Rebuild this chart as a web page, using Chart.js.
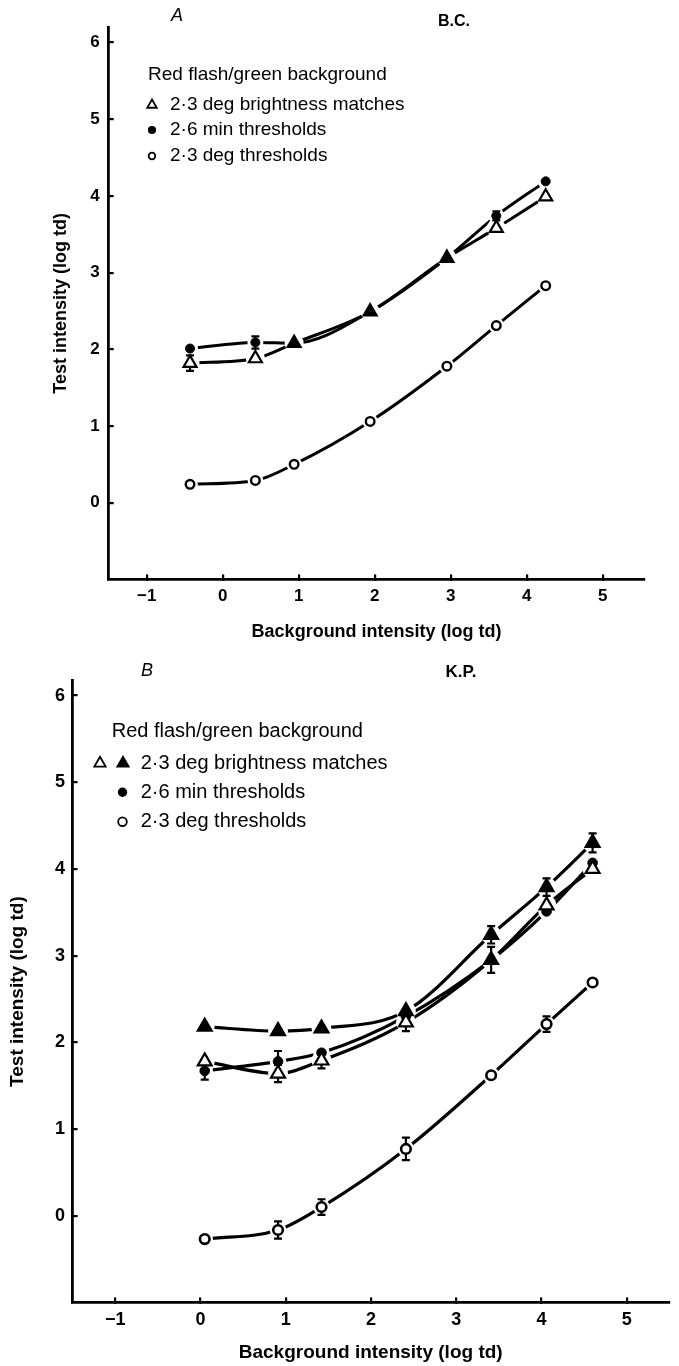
<!DOCTYPE html>
<html>
<head>
<meta charset="utf-8">
<script src="https://cdn.jsdelivr.net/npm/chart.js@4.4.0/dist/chart.umd.min.js"></script>
<style>
    html, body { margin: 0; padding: 0; background: #fff; }
    body { width: 679px; height: 1366px; position: relative; overflow: hidden; }
    canvas { position: absolute; left: 0; }
    #chartA { top: 0; }
    #chartB { top: 655px; }
</style>
</head>
<body>
<canvas id="chartA" width="679" height="655"></canvas>
<canvas id="chartB" width="679" height="711"></canvas>
<script>
// Panel A, subject B.C. (x = background intensity, log td)
const bcX        = [-0.43, 0.43, 0.94, 1.94, 2.95, 3.60, 4.25];
const bcMatch    = [1.82, 1.88, 2.08, 2.49, 3.19, 3.58, 3.99];  // open triangles
const bcMatchErr = [0.10, 0, 0, 0, 0, 0, 0];
const bcSmall    = [2.01, 2.09, 2.08, 2.49, 3.19, 3.74, 4.19];  // filled dots
const bcSmallErr = [0, 0.08, 0, 0, 0, 0.06, 0];
const bcLarge    = [0.24, 0.29, 0.50, 1.06, 1.78, 2.31, 2.83];  // open circles
const bcLargeErr = [0, 0, 0, 0, 0, 0, 0];

// Panel B, subject K.P.
const kpX             = [0.05, 0.91, 1.42, 2.41, 3.41, 4.06, 4.60];
const kpMatchFilled    = [2.18, 2.13, 2.16, 2.36, 3.24, 3.79, 4.30];
const kpMatchFilledErr = [0, 0, 0, 0, 0.10, 0.10, 0.11];
const kpMatchOpen      = [1.78, 1.64, 1.79, 2.23, 2.95, 3.58, 4.00];
const kpMatchOpenErr   = [0, 0.10, 0.09, 0.10, 0.15, 0, 0];
const kpSmall          = [1.67, 1.78, 1.88, 2.30, 2.95, 3.51, 4.07];
const kpSmallErr       = [0.10, 0.12, 0, 0, 0, 0, 0];
const kpLarge          = [-0.27, -0.165, 0.10, 0.77, 1.62, 2.21, 2.69];
const kpLargeErr       = [0, 0.10, 0.09, 0.13, 0, 0.09, 0];

const xTicks = [-1, 0, 1, 2, 3, 4, 5];
const yTicks = [0, 1, 2, 3, 4, 5, 6];

const legendHeader = 'Red flash/green background';
const legendLabels = ['2\u00b73 deg brightness matches', '2\u00b76 min thresholds', '2\u00b73 deg thresholds'];

const FAMILY = '"Liberation Sans", Arial, Helvetica, sans-serif';

function fmtTick(v) {
    return v < 0 ? '\u2212' + Math.abs(v) : String(v);
}

// each series = line, white halo (gap round the marker), marker
function buildDatasets(series) {
    const out = [];
    series.forEach(s => {
        const pts = s.xs.map((x, i) => ({ x: x, y: s.ys[i] }));
        const hidden = s.hidden || (() => false);
        const filled = s.filled || (() => false);
        out.push({
            data: pts, order: 3, showLine: true, pointRadius: 0,
            borderColor: '#000', borderWidth: s.lineWidth,
            cubicInterpolationMode: 'monotone', fill: false
        });
        out.push({
            data: pts, order: 2, showLine: false, pointStyle: 'circle',
            pointRadius: c => hidden(c.dataIndex) ? 0 : s.radius + s.gap,
            pointBackgroundColor: '#fff', pointBorderColor: '#fff', pointBorderWidth: 0
        });
        out.push({
            data: pts, order: 1, showLine: false, errors: s.errs, pointStyle: s.shape,
            pointRadius: c => hidden(c.dataIndex) ? 0 : s.radius,
            pointBackgroundColor: c => filled(c.dataIndex) ? '#000' : '#fff',
            pointBorderColor: '#000', pointBorderWidth: s.border
        });
    });
    return out;
}

const errorBars = {
    id: 'errorBars',
    beforeDatasetDraw(chart, args) {
        const ds = chart.data.datasets[args.index];
        if (!ds.errors) return;
        const { ctx, scales: { x, y } } = chart;
        ctx.save();
        ctx.strokeStyle = '#000';
        ctx.lineWidth = 2.2;
        ds.data.forEach((p, i) => {
            const e = ds.errors[i];
            if (!e) return;
            const px = x.getPixelForValue(p.x);
            const top = y.getPixelForValue(p.y + e);
            const bot = y.getPixelForValue(p.y - e);
            ctx.beginPath();
            ctx.moveTo(px, top); ctx.lineTo(px, bot);
            ctx.moveTo(px - 4, top); ctx.lineTo(px + 4, top);
            ctx.moveTo(px - 4, bot); ctx.lineTo(px + 4, bot);
            ctx.stroke();
        });
        ctx.restore();
    }
};

function drawMark(ctx, m) {
    const { x, y, r } = m;
    ctx.beginPath();
    if (m.shape === 'triangle') {
        ctx.moveTo(x, y - r);
        ctx.lineTo(x + r * 0.866, y + r / 2);
        ctx.lineTo(x - r * 0.866, y + r / 2);
        ctx.closePath();
    } else {
        ctx.arc(x, y, r, 0, Math.PI * 2);
    }
    ctx.fillStyle = m.filled ? '#000' : '#fff';
    ctx.fill();
    ctx.lineWidth = m.lw || 1.8;
    ctx.strokeStyle = '#000';
    ctx.stroke();
}

function makeDecor(d) {
    return {
        id: 'decor',
        afterDraw(chart) {
            const ctx = chart.ctx;
            ctx.save();
            ctx.fillStyle = '#000';
            ctx.textBaseline = 'middle';
            ctx.textAlign = 'center';
            ctx.font = d.letter.font;
            ctx.fillText(d.letter.text, d.letter.x, d.letter.y);
            ctx.font = d.subject.font;
            ctx.fillText(d.subject.text, d.subject.x, d.subject.y);

            ctx.textAlign = 'left';
            ctx.font = d.font;
            ctx.fillText(legendHeader, d.header.x, d.header.y);
            d.rows.forEach((row, i) => {
                row.marks.forEach(m => drawMark(ctx, Object.assign({ y: row.y }, m)));
                ctx.fillStyle = '#000';
                ctx.fillText(legendLabels[i], d.textX, row.y);
            });
            ctx.restore();
        }
    };
}

function makePanel(canvasId, p) {
    return new Chart(document.getElementById(canvasId), {
        type: 'line',
        data: { datasets: buildDatasets(p.series) },
        options: {
            responsive: false,
            animation: false,
            events: [],
            layout: { padding: p.padding },
            scales: {
                x: {
                    type: 'linear', min: p.xMin, max: p.xMax,
                    afterFit: s => { s.height = p.xAxisHeight; },
                    afterBuildTicks: s => { s.ticks = xTicks.map(v => ({ value: v })); },
                    grid: { drawOnChartArea: false, tickLength: -5, lineWidth: 2.2, color: '#000' },
                    border: { color: '#000', width: 2.8 },
                    ticks: {
                        padding: p.xTickPad, color: '#000', maxRotation: 0,
                        font: { family: FAMILY, size: p.tickSize, weight: 'bold' },
                        callback: v => fmtTick(v)
                    },
                    title: {
                        display: true, text: 'Background intensity (log td)', color: '#000',
                        font: { family: FAMILY, size: p.titleSize, weight: 'bold' },
                        padding: { top: 0, bottom: p.xTitlePad }
                    }
                },
                y: {
                    type: 'linear', min: p.yMin, max: p.yMax,
                    afterFit: s => { s.width = p.yAxisWidth; },
                    afterBuildTicks: s => { s.ticks = yTicks.map(v => ({ value: v })); },
                    grid: { drawOnChartArea: false, tickLength: -5, lineWidth: 2.2, color: '#000' },
                    border: { color: '#000', width: 2.8 },
                    ticks: {
                        padding: p.yTickPad, color: '#000',
                        font: { family: FAMILY, size: p.tickSize, weight: 'bold' },
                        callback: v => fmtTick(v)
                    },
                    title: {
                        display: true, text: 'Test intensity (log td)', color: '#000',
                        font: { family: FAMILY, size: p.titleSize, weight: 'bold' },
                        padding: { top: p.yTitlePad, bottom: 0 }
                    }
                }
            },
            plugins: { legend: { display: false }, tooltip: { enabled: false } }
        },
        plugins: [errorBars, makeDecor(p.decor)]
    });
}

const sameA = i => bcMatch[i] === bcSmall[i];
const sameB = i => kpMatchOpen[i] === kpSmall[i];

makePanel('chartA', {
    xMin: -1.5, xMax: 5.55, yMin: -1, yMax: 6.2,
    padding: { left: 0, right: 34.5, top: 27.2, bottom: 0 },
    yAxisWidth: 108.7, xAxisHeight: 75.6,
    tickSize: 17, titleSize: 18,
    xTickPad: 12.1, yTickPad: 14, xTitlePad: 12.5, yTitlePad: 49.8,
    series: [
        { xs: bcX, ys: bcMatch, errs: bcMatchErr, shape: 'triangle', radius: 7.5, border: 2.2, gap: 2, lineWidth: 3, filled: sameA },
        { xs: bcX, ys: bcSmall, errs: bcSmallErr, shape: 'circle', radius: 4.5, border: 1, gap: 3.5, lineWidth: 3, filled: () => true, hidden: sameA },
        { xs: bcX, ys: bcLarge, errs: bcLargeErr, shape: 'circle', radius: 4.3, border: 2.4, gap: 3.5, lineWidth: 3 }
    ],
    decor: {
        letter: { text: 'A', x: 177, y: 16, font: 'italic 18px ' + FAMILY },
        subject: { text: 'B.C.', x: 454, y: 22, font: 'bold 16px ' + FAMILY },
        header: { x: 148, y: 75 },
        font: '19px ' + FAMILY,
        textX: 170,
        rows: [
            { y: 105, marks: [{ x: 152, shape: 'triangle', filled: false, r: 5.5 }] },
            { y: 130, marks: [{ x: 152, shape: 'circle', filled: true, r: 3.2 }] },
            { y: 156, marks: [{ x: 152, shape: 'circle', filled: false, r: 3.3 }] }
        ]
    }
});

makePanel('chartB', {
    xMin: -1.5, xMax: 5.494, yMin: -1, yMax: 6.17,
    padding: { left: 0, right: 0, top: 25.8, bottom: 0 },
    yAxisWidth: 72.6, xAxisHeight: 63.6,
    tickSize: 18, titleSize: 19,
    xTickPad: 11.8, yTickPad: 12.6, xTitlePad: 2, yTitlePad: 6.5,
    series: [
        { xs: kpX, ys: kpMatchFilled, errs: kpMatchFilledErr, shape: 'triangle', radius: 8, border: 2.2, gap: 2, lineWidth: 3.2, filled: () => true },
        { xs: kpX, ys: kpMatchOpen, errs: kpMatchOpenErr, shape: 'triangle', radius: 8, border: 2.2, gap: 2, lineWidth: 3.2, filled: sameB },
        { xs: kpX, ys: kpSmall, errs: kpSmallErr, shape: 'circle', radius: 4.8, border: 1, gap: 3.5, lineWidth: 3.2, filled: () => true, hidden: sameB },
        { xs: kpX, ys: kpLarge, errs: kpLargeErr, shape: 'circle', radius: 4.8, border: 2.6, gap: 3.5, lineWidth: 3.2 }
    ],
    decor: {
        letter: { text: 'B', x: 147, y: 16, font: 'italic 18px ' + FAMILY },
        subject: { text: 'K.P.', x: 461, y: 17, font: 'bold 17px ' + FAMILY },
        header: { x: 111.7, y: 76 },
        font: '20px ' + FAMILY,
        textX: 140.7,
        rows: [
            { y: 108.3, marks: [
                { x: 100, shape: 'triangle', filled: false, r: 6.5 },
                { x: 123, shape: 'triangle', filled: true, r: 6.5 }
            ] },
            { y: 137.3, marks: [{ x: 122.5, shape: 'circle', filled: true, r: 3.8 }] },
            { y: 166.7, marks: [{ x: 122.5, shape: 'circle', filled: false, r: 4.3 }] }
        ]
    }
});
</script>
</body>
</html>
